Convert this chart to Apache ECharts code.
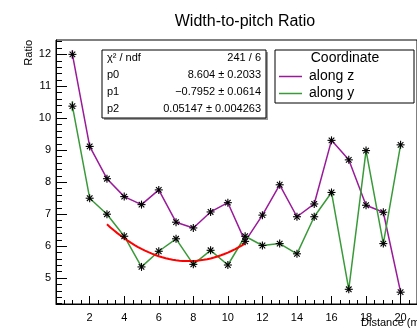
<!DOCTYPE html>
<html>
<head>
<meta charset="utf-8">
<script src="https://cdn.jsdelivr.net/npm/echarts@6/dist/echarts.min.js"></script>
<style>
  html, body { margin: 0; padding: 0; background: #fff; }
  #chart { width: 417px; height: 328px; }
</style>
</head>
<body>
<div id="chart"></div>
<script>
// Measurement positions (x) and the two ratio series
const distance = [1, 2, 3, 4, 5, 6, 7, 8, 9, 10, 11, 12, 13, 14, 15, 16, 17, 18, 19, 20];
const alongZ = [12.0, 9.12, 8.11, 7.55, 7.30, 7.76, 6.75, 6.57, 7.07, 7.36, 6.15, 6.97, 7.92, 6.92, 7.32, 9.31, 8.70, 7.28, 7.06, 4.56];
const alongY = [10.38, 7.50, 7.00, 6.31, 5.35, 5.84, 6.23, 5.43, 5.87, 5.41, 6.31, 6.02, 6.08, 5.76, 6.92, 7.68, 4.65, 8.99, 6.08, 9.17];
const errZ = [0.13, 0.06, 0.06, 0.05, 0.05, 0.05, 0.05, 0.05, 0.05, 0.05, 0.05, 0.05, 0.05, 0.05, 0.05, 0.06, 0.06, 0.05, 0.05, 0.05];
const errY = [0.16, 0.06, 0.05, 0.05, 0.04, 0.04, 0.05, 0.04, 0.04, 0.04, 0.05, 0.04, 0.04, 0.04, 0.05, 0.05, 0.04, 0.06, 0.04, 0.06];

// Quadratic fit parameters (pol2) and its range
const fitParams = [8.604, -0.7952, 0.05147];
const fitRange = [3, 11];
const statRows = [
  ['\u03c7\u00b2 / ndf', '241 / 6'],
  ['p0', '8.604 \u00b1 0.2033'],
  ['p1', '\u22120.7952 \u00b1 0.0614'],
  ['p2', '0.05147 \u00b1 0.004263']
];

// Axis ticks and labels
const xLabels = [2, 4, 6, 8, 10, 12, 14, 16, 18, 20];
const xMinor = [];
for (let v = 0.5; v <= 20.9; v += 0.5) xMinor.push(+v.toFixed(1));
const yLabels = [5, 6, 7, 8, 9, 10, 11, 12];
const yMinor = [];
for (let v = 4.2; v <= 12.41; v += 0.2) yMinor.push(+v.toFixed(1));

const colZ = '#9a1a9a';
const colY = '#3a9a3a';
const FONT = 'Liberation Sans, Arial, sans-serif';

const fitCurve = [];
for (let i = 0; i <= 80; i++) {
  const x = fitRange[0] + (fitRange[1] - fitRange[0]) * i / 80;
  fitCurve.push([x, fitParams[0] + fitParams[1] * x + fitParams[2] * x * x]);
}

function pts(ys, errs) {
  return distance.map((x, i) => [x, ys[i], errs[i]]);
}

function markerSeries(name, ys, errs, color) {
  return {
    type: 'custom',
    name: name,
    xAxisIndex: 0, yAxisIndex: 0,
    z: 5,
    clip: false,
    data: pts(ys, errs),
    renderItem: function (params, api) {
      const x = api.value(0), y = api.value(1), e = api.value(2);
      const c = api.coord([x, y]);
      const t = api.coord([x, y + e]);
      const b = api.coord([x, y - e]);
      const r = 4, d = 2.8;
      const blk = { stroke: '#000', lineWidth: 1.1 };
      return {
        type: 'group',
        children: [
          { type: 'line', shape: { x1: c[0], y1: t[1], x2: c[0], y2: b[1] }, style: { stroke: color, lineWidth: 1.5 } },
          { type: 'line', shape: { x1: c[0] - r, y1: c[1], x2: c[0] + r, y2: c[1] }, style: blk },
          { type: 'line', shape: { x1: c[0], y1: c[1] - r, x2: c[0], y2: c[1] + r }, style: blk },
          { type: 'line', shape: { x1: c[0] - d, y1: c[1] - d, x2: c[0] + d, y2: c[1] + d }, style: blk },
          { type: 'line', shape: { x1: c[0] - d, y1: c[1] + d, x2: c[0] + d, y2: c[1] - d }, style: blk }
        ]
      };
    }
  };
}

const statGraphics = [];
const sbx = 102, sby = 50, sbw = 164, sbh = 68;
statGraphics.push({ type: 'rect', shape: { x: sbx + 2, y: sby + 2, width: sbw, height: sbh }, style: { fill: '#9a9a9a' }, z: 10 });
statGraphics.push({ type: 'rect', shape: { x: sbx, y: sby, width: sbw, height: sbh }, style: { fill: '#fff', stroke: '#000', lineWidth: 1 }, z: 11 });
statRows.forEach((row, i) => {
  const yy = 57.5 + i * 17;
  statGraphics.push({ type: 'text', z: 12, style: { x: sbx + 5, y: yy, text: row[0], font: '11px ' + FONT, fill: '#000', verticalAlign: 'middle', align: 'left' } });
  statGraphics.push({ type: 'text', z: 12, style: { x: sbx + sbw - 5, y: yy, text: row[1], font: '11px ' + FONT, fill: '#000', verticalAlign: 'middle', align: 'right' } });
});

const legendGraphics = [
  { type: 'rect', z: 11, shape: { x: 275, y: 50, width: 139, height: 53 }, style: { fill: '#fff', stroke: '#000', lineWidth: 1 } },
  { type: 'text', z: 12, style: { x: 345, y: 58, text: 'Coordinate', font: '14px ' + FONT, fill: '#000', align: 'center', verticalAlign: 'middle' } },
  { type: 'line', z: 12, shape: { x1: 279, y1: 76.5, x2: 302, y2: 76.5 }, style: { stroke: colZ, lineWidth: 1.5 } },
  { type: 'text', z: 12, style: { x: 309, y: 76, text: 'along z', font: '14px ' + FONT, fill: '#000', align: 'left', verticalAlign: 'middle' } },
  { type: 'line', z: 12, shape: { x1: 279, y1: 93.5, x2: 302, y2: 93.5 }, style: { stroke: colY, lineWidth: 1.5 } },
  { type: 'text', z: 12, style: { x: 309, y: 93, text: 'along y', font: '14px ' + FONT, fill: '#000', align: 'left', verticalAlign: 'middle' } }
];

const chart = echarts.init(document.getElementById('chart'), null, { renderer: 'canvas' });
const gridBox = { left: 56, top: 40, width: 366, height: 264 };
chart.setOption({
  animation: false,
  backgroundColor: '#fff',
  title: {
    text: 'Width-to-pitch Ratio', left: 240, top: 9, textAlign: 'center',
    textStyle: { fontFamily: FONT, fontSize: 16, fontWeight: 'normal', color: '#000' }
  },
  grid: Object.assign({ show: true, borderColor: '#000', borderWidth: 1, backgroundColor: 'transparent' }, gridBox),
  xAxis: [
    {
      type: 'value', min: 0.05, max: 20.95, gridIndex: 0,
      splitLine: { show: false },
      axisLine: { show: true, lineStyle: { color: '#000', width: 1 } },
      axisTick: { show: true, inside: true, length: 8, customValues: xLabels, lineStyle: { color: '#000' } },
      axisLabel: { customValues: xLabels, color: '#000', fontFamily: FONT, fontSize: 11, margin: 8 }
    },
    {
      type: 'value', min: 0.05, max: 20.95, gridIndex: 0, position: 'bottom',
      splitLine: { show: false },
      axisLine: { show: false },
      axisTick: { show: true, inside: true, length: 4, customValues: xMinor, lineStyle: { color: '#000' } },
      axisLabel: { show: false }
    }
  ],
  yAxis: [
    {
      type: 'value', min: 4.19, max: 12.45, gridIndex: 0,
      splitLine: { show: false },
      axisLine: { show: true, lineStyle: { color: '#000', width: 1 } },
      axisTick: { show: true, inside: true, length: 11, customValues: yLabels, lineStyle: { color: '#000' } },
      axisLabel: { customValues: yLabels, color: '#000', fontFamily: FONT, fontSize: 11, margin: 5 }
    },
    {
      type: 'value', min: 4.19, max: 12.45, gridIndex: 0, position: 'left',
      splitLine: { show: false },
      axisLine: { show: false },
      axisTick: { show: true, inside: true, length: 6, customValues: yMinor, lineStyle: { color: '#000' } },
      axisLabel: { show: false }
    }
  ],
  series: [
    { type: 'line', name: 'along z', data: distance.map((x, i) => [x, alongZ[i]]), symbol: 'none', lineStyle: { color: colZ, width: 1.5 }, z: 2 },
    { type: 'line', name: 'along y', data: distance.map((x, i) => [x, alongY[i]]), symbol: 'none', lineStyle: { color: colY, width: 1.5 }, z: 2 },
    { type: 'line', name: 'pol2', data: fitCurve, symbol: 'none', lineStyle: { color: '#ff0000', width: 2 }, z: 3 },
    markerSeries('along z', alongZ, errZ, colZ),
    markerSeries('along y', alongY, errY, colY)
  ],
  graphic: [
    { type: 'text', rotation: Math.PI / 2, x: 23, y: 40, style: { text: 'Ratio', font: '11px ' + FONT, fill: '#000', align: 'right', verticalAlign: 'top' } },
    { type: 'text', x: 361, y: 323, style: { text: 'Distance (mm)', font: '11px ' + FONT, fill: '#000', align: 'left', verticalAlign: 'middle' } }
  ].concat(statGraphics, legendGraphics)
});
</script>
</body>
</html>
